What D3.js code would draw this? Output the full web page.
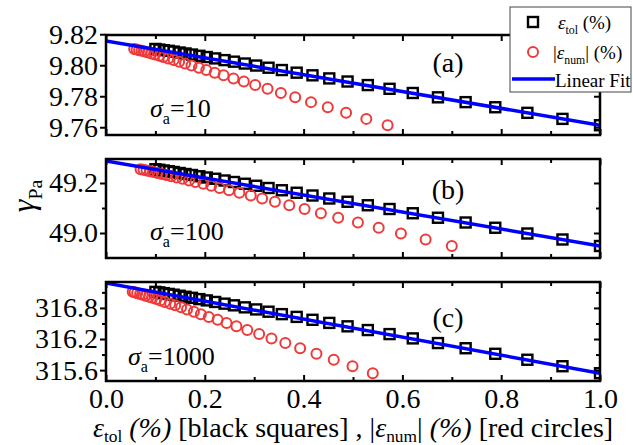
<!DOCTYPE html>
<html>
<head>
<meta charset="utf-8">
<script src="https://cdn.jsdelivr.net/npm/d3@7"></script>
<style>
body { margin: 0; background: #fff; }
svg text { font-family: "Liberation Serif", Tinos, "Times New Roman", Times, "DejaVu Serif", serif; fill: #000; }
</style>
</head>
<body>
<script>

// eps_tol (%) -- x of the black squares, shared by the three panels
var epsTol = [0.100, 0.108, 0.117, 0.127, 0.137, 0.149, 0.161, 0.174, 0.189, 0.204,
              0.221, 0.240, 0.259, 0.281, 0.304, 0.329, 0.356, 0.386, 0.418, 0.452,
              0.489, 0.530, 0.574, 0.621, 0.672, 0.728, 0.788, 0.853, 0.924, 1.000];

// gamma_Pa for each square (the red circle of the same run has the same gamma)
var gammaA = [9.8105, 9.8101, 9.8097, 9.8093, 9.8088, 9.8082, 9.8076, 9.8069, 9.8061, 9.8053,
              9.8044, 9.8033, 9.8023, 9.8011, 9.7998, 9.7984, 9.7969, 9.7952, 9.7935, 9.7915,
              9.7895, 9.7872, 9.7848, 9.7821, 9.7793, 9.7762, 9.7729, 9.7693, 9.7654, 9.7613];
var gammaB = [49.255, 49.253, 49.250, 49.247, 49.244, 49.240, 49.236, 49.232, 49.227, 49.222,
              49.217, 49.210, 49.204, 49.197, 49.189, 49.180, 49.171, 49.161, 49.150, 49.138,
              49.125, 49.111, 49.096, 49.079, 49.061, 49.042, 49.021, 48.998, 48.974, 48.948];
var gammaC = [317.110, 317.100, 317.085, 317.070, 317.055, 317.035, 317.015, 316.995, 316.970, 316.945,
              316.915, 316.882, 316.850, 316.811, 316.771, 316.727, 316.680, 316.627, 316.571, 316.511,
              316.445, 316.373, 316.295, 316.212, 316.122, 316.022, 315.915, 315.800, 315.675, 315.540];

// |eps_num| (%) -- x of the red circles
var epsNumA = [0.057, 0.062, 0.067, 0.072, 0.078, 0.085, 0.092, 0.099, 0.108, 0.116,
               0.126, 0.137, 0.148, 0.160, 0.173, 0.188, 0.203, 0.220, 0.238, 0.258,
               0.279, 0.302, 0.327, 0.354, 0.383, 0.415, 0.449, 0.486, 0.527, 0.570];
var epsNumB = [0.070, 0.076, 0.082, 0.089, 0.096, 0.104, 0.113, 0.122, 0.132, 0.143,
               0.155, 0.168, 0.181, 0.197, 0.213, 0.230, 0.249, 0.270, 0.293, 0.316,
               0.342, 0.371, 0.402, 0.435, 0.470, 0.510, 0.552, 0.597, 0.647, 0.700];
var epsNumC = [0.054, 0.058, 0.063, 0.069, 0.074, 0.080, 0.087, 0.094, 0.102, 0.110,
               0.119, 0.130, 0.140, 0.152, 0.164, 0.178, 0.192, 0.208, 0.226, 0.244,
               0.264, 0.286, 0.310, 0.335, 0.363, 0.393, 0.426, 0.461, 0.499, 0.540];

// linear fits
var fitIntercept = [9.8157, 49.288, 317.28];
var fitSlope = [-0.0544, -0.340, -1.74];

var panelNames = ["(a)", "(b)", "(c)"];
var sigmaValues = ["10", "100", "1000"];

var yDomains = [[9.755, 9.8195], [48.9, 49.296], [315.39, 317.3]];
var yMajor = [[9.76, 9.78, 9.80, 9.82], [49.0, 49.2], [315.6, 316.2, 316.8]];
var yMinor = [[], [49.1], [315.9, 316.5, 317.1]];
var yFormat = [".2f", ".1f", ".1f"];

var xMajor = [0, 0.2, 0.4, 0.6, 0.8, 1.0];
var xMinor = [0.1, 0.3, 0.5, 0.7, 0.9];

var gammas = [gammaA, gammaB, gammaC];
var epsNums = [epsNumA, epsNumB, epsNumC];

var W = 633, H = 445;
var left = 106, right = 600;
var tops = [35, 159, 282], bottoms = [135, 258, 381];
var sigmaPos = [[150, 117], [150, 240], [128, 365]];
var namePos = [[448, 72], [448, 199], [448, 327]];

var red = "#ee3a3a", blue = "#0000ff";
var fs = 28;
var serif = '"Liberation Serif", Tinos, "Times New Roman", Times, "DejaVu Serif", serif';

var svg = d3.select("body").append("svg").attr("width", W).attr("height", H)
    .style("font-family", serif);

var x = d3.scaleLinear().domain([0, 1]).range([left, right]);

// text with italic / subscript parts
function rich(el, parts, size, shift) {
    var low = false;
    shift = shift || 0.26;
    parts.forEach(function (p) {
        var ts = el.append("tspan").text(p.t);
        if (p.it) ts.style("font-style", "italic");
        if (p.sub) {
            ts.attr("font-size", size * 0.62);
            if (!low) ts.attr("dy", size * shift);
            low = true;
        } else if (low) {
            ts.attr("dy", -size * shift);
            low = false;
        }
    });
}

function ticks(g, axis, vals, size, fmt) {
    g.call(axis.tickValues(vals).tickSize(size).tickFormat(fmt));
    g.attr("font-family", null);
    g.select(".domain").remove();
    g.selectAll(".tick line").attr("stroke", "#000").attr("stroke-width", 2);
    g.selectAll("text").attr("font-size", fs).style("font-family", serif);
}

tops.forEach(function (top, i) {
    var bot = bottoms[i];
    var y = d3.scaleLinear().domain(yDomains[i]).range([bot, top]);
    var g = svg.append("g");
    var last = (i === 2);

    svg.append("clipPath").attr("id", "clip" + i)
        .append("rect").attr("x", left).attr("y", top)
        .attr("width", right - left).attr("height", bot - top);

    // axes: left ticks point out, the others point in
    ticks(g.append("g").attr("transform", "translate(" + left + ",0)"),
        d3.axisLeft(y).tickPadding(2), yMajor[i], 6, d3.format(yFormat[i]));
    ticks(g.append("g").attr("transform", "translate(" + left + ",0)"),
        d3.axisLeft(y), yMinor[i], 4, "");
    ticks(g.append("g").attr("transform", "translate(" + right + ",0)"),
        d3.axisRight(y), yMajor[i], -6, "");
    ticks(g.append("g").attr("transform", "translate(" + right + ",0)"),
        d3.axisRight(y), yMinor[i], -4, "");
    ticks(g.append("g").attr("transform", "translate(0," + bot + ")"),
        d3.axisBottom(x).tickPadding(7), xMajor, -6, last ? d3.format(".1f") : "");
    ticks(g.append("g").attr("transform", "translate(0," + bot + ")"),
        d3.axisBottom(x), xMinor, -4, "");
    ticks(g.append("g").attr("transform", "translate(0," + top + ")"),
        d3.axisTop(x), xMajor, -6, "");
    ticks(g.append("g").attr("transform", "translate(0," + top + ")"),
        d3.axisTop(x), xMinor, -4, "");

    var marks = g.append("g").attr("clip-path", "url(#clip" + i + ")");

    var gam = gammas[i];
    var sq = 10;
    marks.selectAll(".sq")
        .data(epsTol)
        .enter().append("rect")
        .attr("class", "sq")
        .attr("x", function (d) { return x(d) - sq / 2; })
        .attr("y", function (d, j) { return y(gam[j]) - sq / 2; })
        .attr("width", sq).attr("height", sq)
        .attr("fill", "none").attr("stroke", "#000").attr("stroke-width", 2.4);

    marks.selectAll(".ci")
        .data(epsNums[i])
        .enter().append("circle")
        .attr("class", "ci")
        .attr("cx", function (d) { return x(d); })
        .attr("cy", function (d, j) { return y(gam[j]); })
        .attr("r", 5)
        .attr("fill", "none").attr("stroke", red).attr("stroke-width", 2);

    var line = d3.line()
        .x(function (d) { return x(d); })
        .y(function (d) { return y(fitIntercept[i] + fitSlope[i] * d); });
    marks.append("path")
        .datum([0, 1])
        .attr("d", line)
        .attr("fill", "none").attr("stroke", blue).attr("stroke-width", 3.5);

    // frame
    g.append("rect").attr("x", left).attr("y", top)
        .attr("width", right - left).attr("height", bot - top)
        .attr("fill", "none").attr("stroke", "#000").attr("stroke-width", 2.5);

    g.append("text").attr("x", namePos[i][0]).attr("y", namePos[i][1])
        .attr("text-anchor", "middle").attr("font-size", 28).text(panelNames[i]);

    var s = g.append("text").attr("x", sigmaPos[i][0]).attr("y", sigmaPos[i][1])
        .attr("font-size", 26);
    rich(s, [{t: "σ", it: true}, {t: "a", sub: true}, {t: "=" + sigmaValues[i]}], 26);
});

// y label
var yl = svg.append("text")
    .attr("transform", "translate(34,196) rotate(-90)")
    .attr("text-anchor", "middle").attr("font-size", 32);
rich(yl, [{t: "γ", it: true}, {t: "Pa", sub: true}], 32);

// x label
var xl = svg.append("text").attr("x", 353).attr("y", 437)
    .attr("text-anchor", "middle").attr("font-size", 28);
rich(xl, [{t: "ε", it: true}, {t: "tol", sub: true}, {t: " (%)", it: true},
          {t: " [black squares] , |"}, {t: "ε", it: true}, {t: "num", sub: true},
          {t: "| "}, {t: "(%)", it: true}, {t: " [red circles]"}], 28, 0.18);

// legend
var lg = svg.append("g");
lg.append("rect").attr("x", 510).attr("y", 7).attr("width", 121).attr("height", 85)
    .attr("fill", "#fff").attr("stroke", "#444").attr("stroke-width", 1);
lg.append("rect").attr("x", 528).attr("y", 17).attr("width", 10).attr("height", 10)
    .attr("fill", "none").attr("stroke", "#000").attr("stroke-width", 2.4);
lg.append("circle").attr("cx", 533).attr("cy", 52).attr("r", 5)
    .attr("fill", "none").attr("stroke", red).attr("stroke-width", 2);
lg.append("line").attr("x1", 512).attr("x2", 555).attr("y1", 79).attr("y2", 79)
    .attr("stroke", blue).attr("stroke-width", 3.5);
var l1 = lg.append("text").attr("x", 558).attr("y", 29).attr("font-size", 19);
rich(l1, [{t: "ε", it: true}, {t: "tol", sub: true}, {t: " (%)"}], 19);
var l2 = lg.append("text").attr("x", 553).attr("y", 59).attr("font-size", 19);
rich(l2, [{t: "|"}, {t: "ε", it: true}, {t: "num", sub: true}, {t: "| (%)"}], 19);
lg.append("text").attr("x", 555).attr("y", 87).attr("font-size", 19).text("Linear Fit");

</script>
</body>
</html>
